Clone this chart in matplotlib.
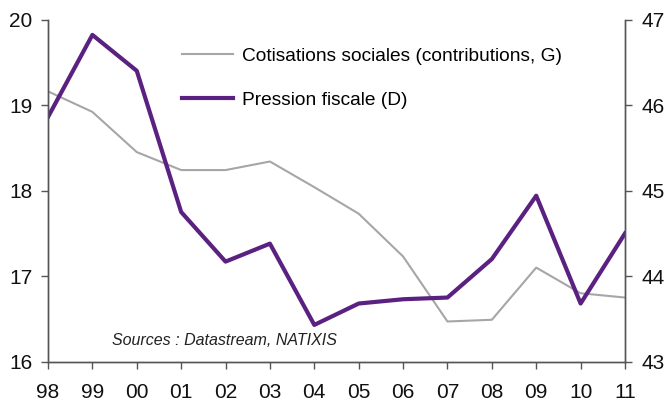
import matplotlib
matplotlib.use("Agg")
import matplotlib.pyplot as plt

plt.rcParams['font.family'] = ['Liberation Sans', 'DejaVu Sans']

years = ["98", "99", "00", "01", "02", "03", "04", "05", "06", "07", "08", "09", "10", "11"]
cotisations = [19.16, 18.92, 18.45, 18.24, 18.24, 18.34, 18.04, 17.73, 17.23, 16.47, 16.49, 17.10, 16.80, 16.75]
pression = [45.86, 46.82, 46.40, 44.75, 44.17, 44.38, 43.43, 43.68, 43.73, 43.75, 44.20, 44.94, 43.68, 44.50]

gray = "#A6A6A6"
purple = "#5B2181"

fig = plt.figure(figsize=(6.67, 4.05), dpi=100)
ax = fig.add_axes([48/667, 1-361.7/405, 577/667, 342.2/405])
ax2 = ax.twinx()

x = list(range(len(years)))
l1, = ax.plot(x, cotisations, color=gray, lw=1.5, label="Cotisations sociales (contributions, G)")
l2, = ax2.plot(x, pression, color=purple, lw=3, label="Pression fiscale (D)")

ax.set_xlim(0, len(years)-1)
ax.set_ylim(16, 20)
ax2.set_ylim(43, 47)
ax.set_yticks([16, 17, 18, 19, 20])
ax2.set_yticks([43, 44, 45, 46, 47])
ax.set_xticks(x)
ax.set_xticklabels(years)

for a in (ax, ax2):
    a.spines['top'].set_visible(False)
    for s in a.spines.values():
        s.set_color("#555555")
        s.set_linewidth(1)
    a.tick_params(direction='out', length=5, width=1, color="#555555", labelsize=15, labelcolor="#111111")
ax.tick_params(axis='x', pad=10)
ax.tick_params(axis='y', pad=6)
ax2.tick_params(axis='y', pad=7)
ax2.set_zorder(ax.get_zorder()+1)
ax.patch.set_visible(False)

leg = ax2.legend(handles=[l1, l2], loc='upper left', bbox_to_anchor=(0.232, 0.918),
                 frameon=False, fontsize=13.8, handlelength=2.65, handletextpad=0.5,
                 labelspacing=1.38, borderpad=0, borderaxespad=0)

ax.text(0.111, 0.0605, "Sources : Datastream, NATIXIS", transform=ax.transAxes,
        fontsize=11.5, style='italic', ha='left', va='center', color="#222222")

fig.savefig("out.png", dpi=100)
